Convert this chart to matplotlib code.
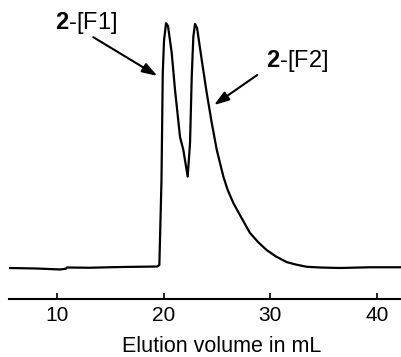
import matplotlib
matplotlib.use("Agg")
import matplotlib.pyplot as plt

plt.rcParams["font.family"] = ["Liberation Sans", "DejaVu Sans"]
plt.rcParams["mathtext.fontset"] = "custom"
plt.rcParams["mathtext.bf"] = "Liberation Sans:bold"
plt.rcParams["mathtext.rm"] = "Liberation Sans"

# elution trace (signal in arbitrary units, peak ~100)
elution_ml = [5.5, 8.0, 10.25, 10.8, 10.9, 13.0, 15.9, 19.36, 19.58, 19.78,
              19.9, 20.02, 20.21, 20.39, 20.74, 21.05, 21.52, 21.83, 22.24,
              22.46, 22.62, 22.77, 22.93, 23.12, 23.56, 24.03, 24.5, 24.97,
              25.59, 26.0, 26.53, 27.25, 28.09, 28.87, 29.66, 30.53, 31.54,
              32.41, 33.42, 34.67, 36.55, 39.36, 42.3]
signal = [0.0, -0.2, -0.6, -0.3, 0.2, 0.1, 0.4, 0.6, 1.2, 35.9,
          79.6, 93.0, 99.9, 98.8, 87.8, 72.7, 53.5, 48.2, 37.3,
          51.0, 78.0, 94.4, 99.6, 98.0, 84.9, 71.4, 59.2, 48.2,
          37.3, 31.8, 26.5, 20.8, 14.3, 10.5, 7.3, 4.7, 2.4,
          1.4, 0.5, 0.2, 0.0, 0.3, 0.3]

xticks = [10, 20, 30, 40]

# peak labels: text, text position, arrow tail, arrow tip
labels = ["$\\mathbf{2}$-[F1]", "$\\mathbf{2}$-[F2]"]
label_pos = [(12.65, 100.0), (32.46, 84.5)]
arrow_tail = [(13.38, 94.2), (28.78, 78.8)]
arrow_tip = [(19.39, 78.4), (24.71, 66.5)]

fig = plt.figure(figsize=(4.01, 3.57), dpi=100)
ax = fig.add_axes([9.3 / 401, 0.1616, 1 - 9.3 / 401, 0.8104])

ax.plot(elution_ml, signal, color="black", lw=1.6, solid_joinstyle="round")

for txt, pos, tail, tip in zip(labels, label_pos, arrow_tail, arrow_tip):
    ax.text(pos[0], pos[1], txt, fontsize=17, ha="center", va="center")
    ax.annotate("", xy=tip, xytext=tail,
                arrowprops=dict(arrowstyle="-|>,head_length=0.9,head_width=0.3",
                                color="black", lw=1.5, shrinkA=0, shrinkB=0))

ax.set_xlim(5.49, 42.27)
ax.set_ylim(-12.78, 105.3)
for side in ["left", "right", "top"]:
    ax.spines[side].set_visible(False)
ax.spines["bottom"].set_linewidth(1.5)
ax.set_yticks([])
ax.set_xticks(xticks)
ax.tick_params(axis="x", direction="in", length=4.5, width=1.2,
               labelsize=15, pad=5)

fig.text(222 / 401, (357 - 346.7) / 357, "Elution volume in mL",
         fontsize=15.5, ha="center", va="center")

fig.savefig("out.png", dpi=100)
